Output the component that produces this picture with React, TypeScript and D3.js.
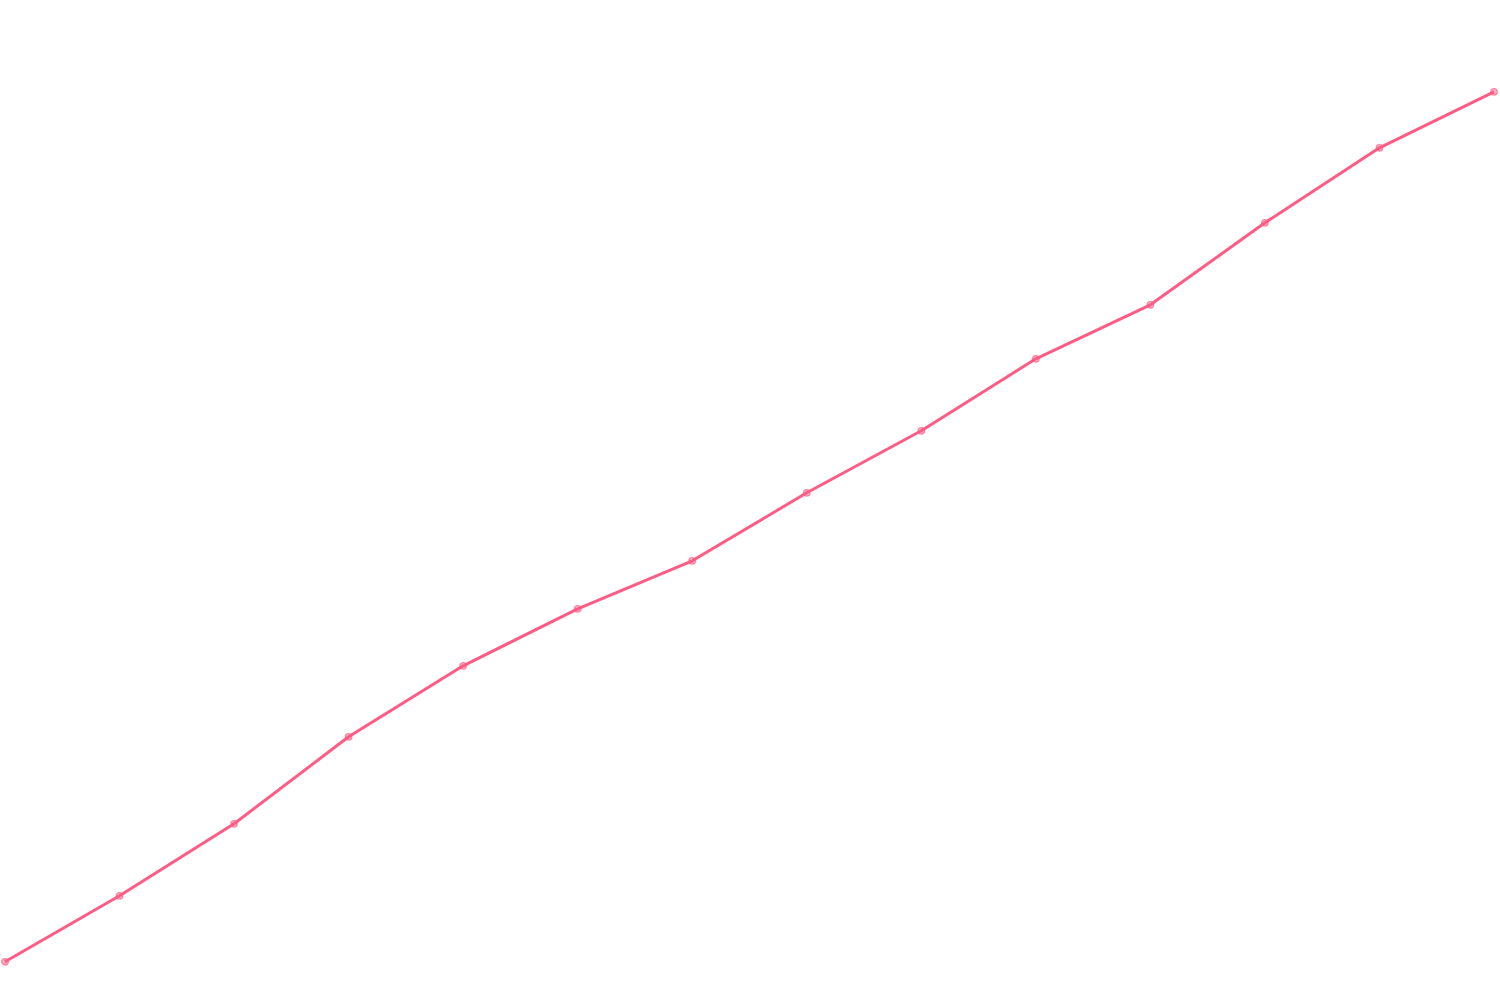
import * as d3 from "d3";

// index along the x axis and the value
const steps = d3.range(14);
const values = [39, 105, 177, 264, 335, 392, 440, 508, 570, 642, 696, 778, 853, 909];

const W = 1500;
const H = 1000;
const lineColor = "#ff5c85";

export default function App() {
  const x = d3.scaleLinear().domain([0, steps.length - 1]).range([5, 1494]);
  const y = d3.scaleLinear().domain([0, 1000]).range([H + 0.8, 0.8]);

  const line = d3
    .line<number>()
    .x((_, i) => x(steps[i]))
    .y((d) => y(d));

  return (
    <div style={{ position: "fixed", left: 0, top: 0, width: W, height: H, background: "#fff" }}>
      <svg width={W} height={H} viewBox={`0 0 ${W} ${H}`} style={{ display: "block" }}>
        <path d={line(values) ?? ""} fill="none" stroke={lineColor} strokeWidth={3} strokeLinejoin="round" />
        {values.map((v, i) => (
          <circle
            key={i}
            cx={x(steps[i])}
            cy={y(v)}
            r={3.3}
            fill={lineColor}
            fillOpacity={0.5}
            stroke={lineColor}
            strokeOpacity={0.7}
            strokeWidth={1.2}
          />
        ))}
      </svg>
    </div>
  );
}
